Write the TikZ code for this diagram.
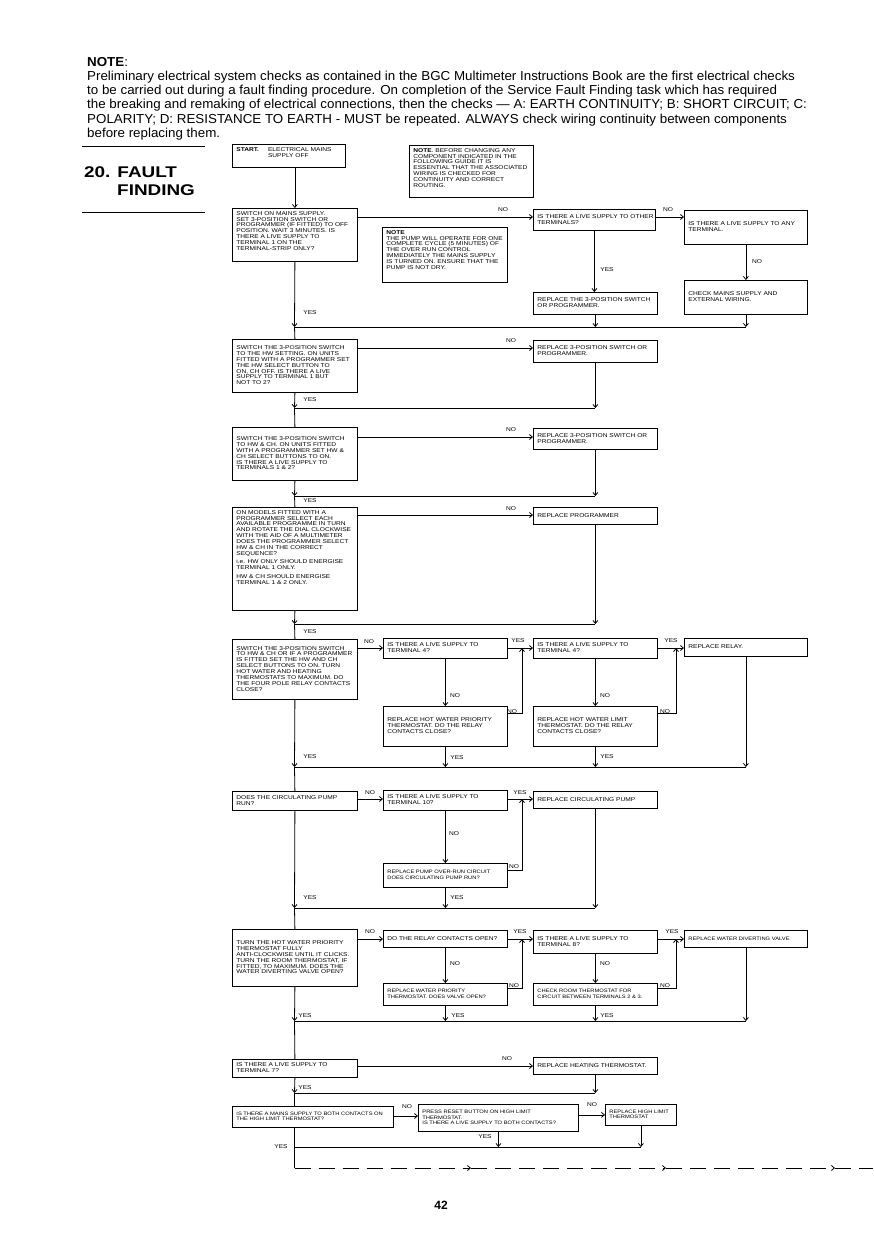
\documentclass[tikz,border=0pt]{standalone}
\usepackage{fontspec}
\setmainfont{Liberation Sans}
\newfontfamily\bxfam[FakeStretch=1.18]{Liberation Sans}
\newfontfamily\ttlfam[FakeStretch=1.22]{Liberation Sans}
\newfontfamily\parafam[FakeStretch=1.028]{Liberation Sans}
\usetikzlibrary{arrows.meta,calc}
\newcommand\bxfont{\bxfam\fontsize{5.6}{5.9}\selectfont\setbox\strutbox\hbox{\vrule height 4.2pt depth 1.7pt width 0pt}}
\newcommand\bxsmall{\bxfam\fontsize{4.9}{5.6}\selectfont\setbox\strutbox\hbox{\vrule height 4pt depth 1.6pt width 0pt}}
\tikzset{
  bx/.style={draw, line width=0.8pt, anchor=north west, inner xsep=4pt, inner ysep=2.5pt, font=\bxfont},
  sm/.style={font=\bxsmall},
  lbl/.style={font=\bxfont, inner sep=0pt},
  ln/.style={line width=0.8pt},
  arr/.style={line width=0.8pt, -{Straight Barb[length=3pt,width=5pt]}},
  rule/.style={line width=1pt},
}
% name, x, y, w, h, vertical pos, text
\newcommand\bxnode[8][]{\node[bx,#1] (#2) at (#3,#4) {\parbox[c][\dimexpr#6pt-5pt\relax][#7]{\dimexpr#5pt-8pt\relax}{\begin{tabular}[t]{@{}l@{}}#8\end{tabular}}};}
\begin{document}
\begin{tikzpicture}[x=1pt,y=-1pt]
\useasboundingbox (0,0) rectangle (873,1237);
\fill[white] (0,0) rectangle (873,1237);

% ---- heading note
\node[anchor=north west, inner sep=0pt, align=left, font=\parafam\fontsize{13}{14.2}\selectfont] (para) at (87,57)
{\textbf{NOTE}:\\
Preliminary electrical system checks as contained in the BGC Multimeter Instructions Book are the first electrical checks\\
to be carried out during a fault finding procedure. On completion of the Service Fault Finding task which has required\\
the breaking and remaking of electrical connections, then the checks — A: EARTH CONTINUITY; B: SHORT CIRCUIT; C:\\
POLARITY; D: RESISTANCE TO EARTH - MUST be repeated. ALWAYS check wiring continuity between components\\
before replacing them.};

% ---- title
\coordinate (r1a) at (82,146); \coordinate (r1b) at (205,146);
\coordinate (r2a) at (82,212); \coordinate (r2b) at (205,212);
\draw[rule] (r1a) -- (r1b);
\draw[rule] (r2a) -- (r2b);
\node[anchor=base west, inner sep=0pt, font=\ttlfam\bfseries\fontsize{15.5}{17}\selectfont] (t1) at (84,177) {20. FAULT};
\node[anchor=base west, inner sep=0pt, font=\ttlfam\bfseries\fontsize{15.5}{17}\selectfont] (t2) at (117,195) {FINDING};

% ---- boxes
\bxnode{start}{232}{144}{113}{23}{t}{\textbf{START.}\hspace{9pt}\begin{tabular}[t]{@{}l@{}}ELECTRICAL MAINS\\SUPPLY OFF\end{tabular}}
\bxnode{note1}{409}{145}{124}{52}{t}{\textbf{NOTE}. BEFORE CHANGING ANY\\COMPONENT INDICATED IN THE\\FOLLOWING GUIDE IT IS\\ESSENTIAL THAT THE ASSOCIATED\\WIRING IS CHECKED FOR\\CONTINUITY AND CORRECT\\ROUTING.}
\bxnode{b2}{232}{208}{125}{53}{t}{SWITCH ON MAINS SUPPLY.\\SET 3-POSITION SWITCH OR\\PROGRAMMER (IF FITTED) TO OFF\\POSITION. WAIT 3 MINUTES. IS\\THERE A LIVE SUPPLY TO\\TERMINAL 1 ON THE\\TERMINAL-STRIP ONLY?}
\bxnode{b3}{533}{209}{122}{21}{c}{IS THERE A LIVE SUPPLY TO OTHER\\TERMINALS?}
\bxnode{b4}{684}{210}{123}{34}{c}{IS THERE A LIVE SUPPLY TO ANY\\TERMINAL.}
\bxnode{note2}{382}{227}{125}{55}{t}{\textbf{NOTE}\\THE PUMP WILL OPERATE FOR ONE\\COMPLETE CYCLE (5 MINUTES) OF\\THE OVER RUN CONTROL\\IMMEDIATELY THE MAINS SUPPLY\\IS TURNED ON. ENSURE THAT THE\\PUMP IS NOT DRY.}
\bxnode{r1}{533}{292}{124}{22}{c}{REPLACE THE 3-POSITION SWITCH\\OR PROGRAMMER.}
\bxnode{chk}{684}{280}{123}{34}{c}{CHECK MAINS SUPPLY AND\\EXTERNAL WIRING.}
\bxnode{b5}{232}{339}{125}{53}{c}{SWITCH THE 3-POSITION SWITCH\\TO THE HW SETTING. ON UNITS\\FITTED WITH A PROGRAMMER SET\\THE HW SELECT BUTTON TO\\ON, CH OFF. IS THERE A LIVE\\SUPPLY TO TERMINAL 1 BUT\\NOT TO 2?}
\bxnode{r2}{533}{340}{124}{22}{c}{REPLACE 3-POSITION SWITCH OR\\PROGRAMMER.}
\bxnode{b6}{232}{427}{125}{53}{c}{SWITCH THE 3-POSITION SWITCH\\TO HW \& CH. ON UNITS FITTED\\WITH A PROGRAMMER SET HW \&\\CH SELECT BUTTONS TO ON.\\IS THERE A LIVE SUPPLY TO\\TERMINALS 1 \& 2?}
\bxnode{r3}{533}{428}{124}{21}{c}{REPLACE 3-POSITION SWITCH OR\\PROGRAMMER.}
\bxnode{b7}{232}{507}{125}{103}{t}{ON MODELS FITTED WITH A\\PROGRAMMER SELECT EACH\\AVAILABLE PROGRAMME IN TURN\\AND ROTATE THE DIAL CLOCKWISE\\WITH THE AID OF A MULTIMETER\\DOES THE PROGRAMMER SELECT\\HW \& CH IN THE CORRECT\\SEQUENCE?\\[2.5pt]i.e. HW ONLY SHOULD ENERGISE\\TERMINAL 1 ONLY.\\[2.5pt]HW \& CH SHOULD ENERGISE\\TERMINAL 1 \& 2 ONLY.}
\bxnode{r4}{533}{507}{124}{17}{c}{REPLACE PROGRAMMER}
\bxnode{b8}{232}{639}{125}{60}{c}{SWITCH THE 3-POSITION SWITCH\\TO HW \& CH OR IF A PROGRAMMER\\IS FITTED SET THE HW AND CH\\SELECT BUTTONS TO ON. TURN\\HOT WATER AND HEATING\\THERMOSTATS TO MAXIMUM. DO\\THE FOUR POLE RELAY CONTACTS\\CLOSE?}
\bxnode{b9}{383}{638}{124}{20}{c}{IS THERE A LIVE SUPPLY TO\\TERMINAL 4?}
\bxnode{b10}{533}{638}{124}{20}{c}{IS THERE A LIVE SUPPLY TO\\TERMINAL 4?}
\bxnode{r5}{684}{638}{123}{18}{c}{REPLACE RELAY.}
\bxnode{b11}{383}{706}{124}{40}{c}{REPLACE HOT WATER PRIORITY\\THERMOSTAT. DO THE RELAY\\CONTACTS CLOSE?}
\bxnode{b12}{533}{706}{124}{40}{c}{REPLACE HOT WATER LIMIT\\THERMOSTAT. DO THE RELAY\\CONTACTS CLOSE?}
\bxnode{b13}{232}{791}{125}{19}{c}{DOES THE CIRCULATING PUMP\\RUN?}
\bxnode{b14}{383}{790}{124}{20}{c}{IS THERE A LIVE SUPPLY TO\\TERMINAL 10?}
\bxnode{r6}{533}{791}{124}{17}{c}{REPLACE CIRCULATING PUMP}
\bxnode[sm]{b16}{383}{863}{124}{24}{c}{REPLACE PUMP OVER-RUN CIRCUIT\\DOES CIRCULATING PUMP RUN?}
\bxnode{b17}{232}{929}{125}{57}{c}{TURN THE HOT WATER PRIORITY\\THERMOSTAT FULLY\\ANTI-CLOCKWISE UNTIL IT CLICKS.\\TURN THE ROOM THERMOSTAT, IF\\FITTED, TO MAXIMUM. DOES THE\\WATER DIVERTING VALVE OPEN?}
\bxnode{b18}{383}{930}{124}{17}{c}{DO THE RELAY CONTACTS OPEN?}
\bxnode{b19}{533}{930}{124}{23}{c}{IS THERE A LIVE SUPPLY TO\\TERMINAL 8?}
\bxnode[sm]{r7}{684}{930}{123}{17}{c}{REPLACE WATER DIVERTING VALVE}
\bxnode[sm]{b21}{383}{983}{124}{22}{c}{REPLACE WATER PRIORITY\\THERMOSTAT. DOES VALVE OPEN?}
\bxnode[sm]{b22}{533}{983}{124}{22}{c}{CHECK ROOM THERMOSTAT FOR\\CIRCUIT BETWEEN TERMINALS 2 \& 3.}
\bxnode{b23}{232}{1059}{125}{18}{c}{IS THERE A LIVE SUPPLY TO\\TERMINAL 7?}
\bxnode{r8}{533}{1057}{124}{17}{c}{REPLACE HEATING THERMOSTAT.}
\bxnode[sm]{b25}{232}{1106}{161}{21}{c}{IS THERE A MAINS SUPPLY TO BOTH CONTACTS ON\\THE HIGH LIMIT THERMOSTAT?}
\bxnode[sm]{b26}{418}{1104}{160}{27}{c}{PRESS RESET BUTTON ON HIGH LIMIT\\THERMOSTAT.\\IS THERE A LIVE SUPPLY TO BOTH CONTACTS?}
\bxnode[sm]{r9}{605}{1104}{71}{21}{c}{REPLACE HIGH LIMIT\\THERMOSTAT}

% ---- helper coordinates
\coordinate (k1) at (522,0);
\coordinate (k2) at (676,0);
\coordinate (h1) at (0,217);
\coordinate (h2) at (0,348);
\coordinate (h3) at (0,437);
\coordinate (h4) at (0,515);
\coordinate (h5) at (0,648);
\coordinate (e5) at (0,713);
\coordinate (h6) at (0,799);
\coordinate (e6) at (0,870);
\coordinate (h7) at (0,939);
\coordinate (e7) at (0,988);
\coordinate (h8) at (0,1066);
\coordinate (h9) at (0,1116);
\coordinate (j1) at (294.5,327);
\coordinate (j2) at (294.5,408);
\coordinate (j3) at (294.5,496);
\coordinate (j4) at (294.5,624);
\coordinate (j5) at (294.5,767);
\coordinate (j6) at (294.5,908);
\coordinate (j7) at (294.5,1021);
\coordinate (j8) at (294.5,1093);
\coordinate (j9) at (294.5,1147);
\coordinate (jd) at (294.5,1168);
\coordinate (d1) at (471,1168);
\coordinate (d2) at (666,1168);
\coordinate (d3) at (835,1168);
\coordinate (dE) at (873,1168);

% ---- section 1
\draw[arr] (b2.north |- start.south) -- (b2.north);
\draw[arr] (b2.east |- h1) -- (b3.west |- h1);
\draw[arr] (b3.east |- h1) -- (b4.west |- h1);
\draw[arr] (b3.south) -- (b3.south |- r1.north);
\draw[arr] (b4.south) -- (b4.south |- chk.north);
\draw[arr] (b2.south) -- (j1);
\draw[arr] (r1.south) -- (r1.south |- j1);
\draw[arr] (chk.south) -- (chk.south |- j1);
\draw[ln] (j1) -- (chk.south |- j1);
\draw[ln] (j1) -- (b5.north);

% ---- section 2
\draw[arr] (b5.east |- h2) -- (r2.west |- h2);
\draw[arr] (b5.south) -- (j2);
\draw[arr] (r2.south) -- (r2.south |- j2);
\draw[ln] (j2) -- (r2.south |- j2);
\draw[ln] (j2) -- (b6.north);

% ---- section 3
\draw[arr] (b6.east |- h3) -- (r3.west |- h3);
\draw[arr] (b6.south) -- (j3);
\draw[arr] (r3.south) -- (r3.south |- j3);
\draw[ln] (j3) -- (r3.south |- j3);
\draw[ln] (j3) -- (b7.north);

% ---- section 4
\draw[arr] (b7.east |- h4) -- (r4.west |- h4);
\draw[arr] (b7.south) -- (j4);
\draw[arr] (r4.south) -- (r4.south |- j4);
\draw[ln] (j4) -- (r4.south |- j4);
\draw[ln] (j4) -- (b8.north);

% ---- section 5
\draw[arr] (b8.east |- h5) -- (b9.west |- h5);
\draw[arr] (b9.east |- h5) -- (b10.west |- h5);
\draw[arr] (b10.east |- h5) -- (r5.west |- h5);
\draw[arr] (b9.south) -- (b9.south |- b11.north);
\draw[arr] (b10.south) -- (b10.south |- b12.north);
\draw[arr] (b11.east |- e5) -| (k1 |- h5);
\draw[arr] (b12.east |- e5) -| (k2 |- h5);
\draw[arr] (b8.south) -- (j5);
\draw[arr] (b11.south) -- (b11.south |- j5);
\draw[arr] (b12.south) -- (b12.south |- j5);
\draw[arr] (r5.south) -- (r5.south |- j5);
\draw[ln] (j5) -- (r5.south |- j5);
\draw[ln] (j5) -- (b13.north);

% ---- section 6
\draw[arr] (b13.east |- h6) -- (b14.west |- h6);
\draw[arr] (b14.east |- h6) -- (r6.west |- h6);
\draw[arr] (b14.south) -- (b14.south |- b16.north);
\draw[arr] (b16.east |- e6) -| (k1 |- h6);
\draw[arr] (b13.south) -- (j6);
\draw[arr] (b16.south) -- (b16.south |- j6);
\draw[arr] (r6.south) -- (r6.south |- j6);
\draw[ln] (j6) -- (r6.south |- j6);
\draw[ln] (j6) -- (b17.north);

% ---- section 7
\draw[arr] (b17.east |- h7) -- (b18.west |- h7);
\draw[arr] (b18.east |- h7) -- (b19.west |- h7);
\draw[arr] (b19.east |- h7) -- (r7.west |- h7);
\draw[arr] (b18.south) -- (b18.south |- b21.north);
\draw[arr] (b19.south) -- (b19.south |- b22.north);
\draw[arr] (b21.east |- e7) -| (k1 |- h7);
\draw[arr] (b22.east |- e7) -| (k2 |- h7);
\draw[arr] (b17.south) -- (j7);
\draw[arr] (b21.south) -- (b21.south |- j7);
\draw[arr] (b22.south) -- (b22.south |- j7);
\draw[arr] (r7.south) -- (r7.south |- j7);
\draw[ln] (j7) -- (r7.south |- j7);
\draw[ln] (j7) -- (b23.north);

% ---- section 8
\draw[arr] (b23.east |- h8) -- (r8.west |- h8);
\draw[arr] (b23.south) -- (j8);
\draw[arr] (r8.south) -- (r8.south |- j8);
\draw[ln] (j8) -- (r8.south |- j8);
\draw[ln] (j8) -- (j8 |- b25.north);

% ---- section 9
\draw[arr] (b25.east |- h9) -- (b26.west |- h9);
\draw[arr] (b26.east |- r9.west) -- (r9.west);
\draw[arr] (b26.south) -- (b26.south |- j9);
\draw[arr] (r9.south) -- (r9.south |- j9);
\draw[ln] (j9) -- (r9.south |- j9);
\draw[ln] (jd |- b25.south) -- (jd);
\draw[arr, dash pattern=on 16pt off 8pt] (jd) -- (d1);
\draw[arr, dash pattern=on 16pt off 8pt] (d1) -- (d2);
\draw[arr, dash pattern=on 16pt off 8pt] (d2) -- (d3);
\draw[ln, dash pattern=on 16pt off 8pt] (d3) -- (dE);

% ---- labels
\node[lbl] (l1) at (503,210) {NO};
\node[lbl] (l2) at (668,210) {NO};
\node[lbl] (l3) at (607,270) {YES};
\node[lbl] (l4) at (757,262) {NO};
\node[lbl] (l5) at (310,313) {YES};
\node[lbl] (l6) at (511,341) {NO};
\node[lbl] (l7) at (310,400) {YES};
\node[lbl] (l8) at (511,430) {NO};
\node[lbl] (l9) at (310,501) {YES};
\node[lbl] (l10) at (511,509) {NO};
\node[lbl] (l11) at (310,632) {YES};
\node[lbl] (l12) at (369,642) {NO};
\node[lbl] (l13) at (518,641) {YES};
\node[lbl] (l14) at (671,641) {YES};
\node[lbl] (l15) at (455,696) {NO};
\node[lbl] (l16) at (512,712) {NO};
\node[lbl] (l17) at (605,696) {NO};
\node[lbl] (l18) at (665,712) {NO};
\node[lbl] (l19) at (310,757) {YES};
\node[lbl] (l20) at (457,758) {YES};
\node[lbl] (l21) at (607,757) {YES};
\node[lbl] (l22) at (370,793) {NO};
\node[lbl] (l23) at (520,793) {YES};
\node[lbl] (l24) at (454,834) {NO};
\node[lbl] (l25) at (514,867) {NO};
\node[lbl] (l26) at (310,898) {YES};
\node[lbl] (l27) at (457,898) {YES};
\node[lbl] (l28) at (370,932) {NO};
\node[lbl] (l29) at (520,932) {YES};
\node[lbl] (l30) at (672,932) {YES};
\node[lbl] (l31) at (455,964) {NO};
\node[lbl] (l32) at (514,986) {NO};
\node[lbl] (l33) at (605,964) {NO};
\node[lbl] (l34) at (665,986) {NO};
\node[lbl] (l35) at (305,1016) {YES};
\node[lbl] (l36) at (458,1016) {YES};
\node[lbl] (l37) at (607,1016) {YES};
\node[lbl] (l38) at (507,1059) {NO};
\node[lbl] (l39) at (305,1088) {YES};
\node[lbl] (l40) at (407,1107) {NO};
\node[lbl] (l41) at (592,1105) {NO};
\node[lbl] (l42) at (485,1137) {YES};
\node[lbl] (l43) at (281,1147) {YES};

% ---- page number
\node[font=\bfseries\fontsize{12}{14}\selectfont, inner sep=0pt] (pg) at (441,1205) {42};
\end{tikzpicture}
\end{document}
